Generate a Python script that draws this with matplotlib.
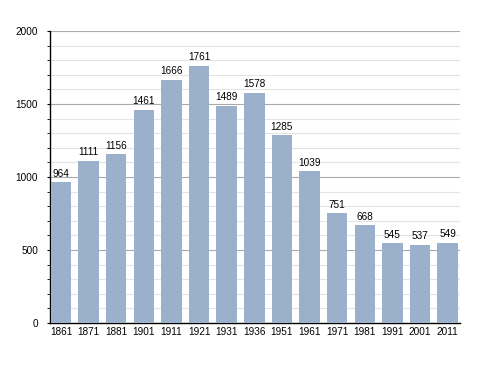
import numpy as np
from matplotlib import pyplot as plt
from matplotlib.ticker import MultipleLocator

plt.rcParams['font.family'] = ['Liberation Sans', 'DejaVu Sans']

years = ['1861', '1871', '1881', '1901', '1911', '1921', '1931', '1936',
         '1951', '1961', '1971', '1981', '1991', '2001', '2011']
population = [964, 1111, 1156, 1461, 1666, 1761, 1489, 1578,
              1285, 1039, 751, 668, 545, 537, 549]

fig = plt.figure(figsize=(4.88, 3.73), dpi=100)
ax = fig.add_axes([50/488, 50/373, 410/488, 292/373])

x = np.arange(len(years))
bars = ax.bar(x, population, width=0.74, color='#9ab0cb', zorder=3)

for xi, v in zip(x, population):
    ax.text(xi, v + 25, str(v), ha='center', va='bottom', fontsize=7.2, zorder=4)

ax.set_xlim(-0.4, 14.45)
ax.set_ylim(0, 2000)
ax.set_xticks(x)
ax.set_xticklabels(years, fontsize=7.2)
ax.tick_params(axis='x', length=0, pad=3)
ax.yaxis.set_major_locator(MultipleLocator(500))
ax.yaxis.set_minor_locator(MultipleLocator(100))
ax.tick_params(axis='y', which='major', length=2.5, labelsize=7.2, pad=6)
ax.tick_params(axis='y', which='minor', length=2.5)
ax.grid(axis='y', which='major', color='#aaaaaa', linewidth=0.8, zorder=0)
ax.grid(axis='y', which='minor', color='#e4e4e4', linewidth=0.8, zorder=0)

for s in ['top', 'right']:
    ax.spines[s].set_visible(False)
ax.spines['left'].set_linewidth(1)
ax.spines['bottom'].set_linewidth(1)

fig.savefig('out.png', dpi=100)
